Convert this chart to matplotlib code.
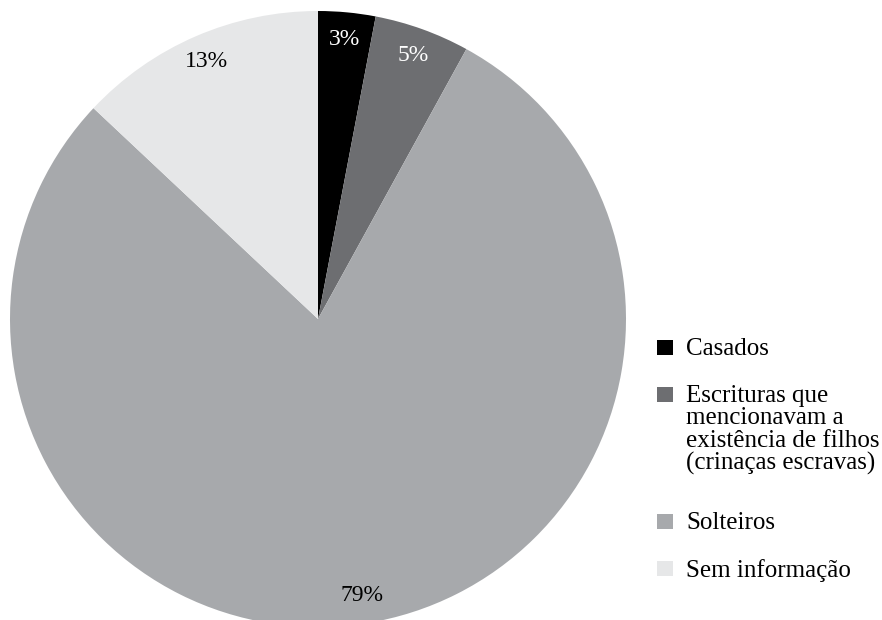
import matplotlib.pyplot as plt
from matplotlib.patches import Rectangle

categories = [
    "Casados",
    "Escrituras que\nmencionavam a\nexistência de filhos\n(crinaças escravas)",
    "Solteiros",
    "Sem informação",
]
percentages = [3, 5, 79, 13]
colors = ["#000000", "#6d6e71", "#a7a9ac", "#e6e7e8"]
label_colors = ["white", "white", "black", "black"]

plt.rcParams['font.family'] = ['Liberation Serif', 'DejaVu Serif']

W, H = 882, 620
fig = plt.figure(figsize=(W / 100, H / 100), dpi=100)

# pie axes: square box in pixels, centre (318, 319), radius 308 px
cx, cy, R = 318, 319, 308
ax = fig.add_axes([(cx - R) / W, (H - cy - R) / H, 2 * R / W, 2 * R / H])
wedges, texts, autotexts = ax.pie(
    percentages, colors=colors, startangle=90, counterclock=False,
    autopct=lambda p: f"{p:.0f}%", pctdistance=0.91,
    textprops=dict(fontsize=17), wedgeprops=dict(linewidth=0))
for t, c in zip(autotexts, label_colors):
    t.set_color(c)
ax.set_xlim(-1, 1)
ax.set_ylim(-1, 1)
ax.set_aspect('equal')
ax.axis('off')

# legend drawn by hand so the marker sits on the first line of each entry
legend_y = [348, 395, 522, 569]
for cat, c, y in zip(categories, colors, legend_y):
    fig.patches.append(Rectangle((657 / W, (H - y - 7) / H), 16 / W, 15 / H,
                                 transform=fig.transFigure, color=c, lw=0))
    fig.text(686 / W, (H - y + 10) / H, cat, fontsize=18, va='top', ha='left',
             linespacing=1.02)

fig.savefig("out.png", dpi=100)
